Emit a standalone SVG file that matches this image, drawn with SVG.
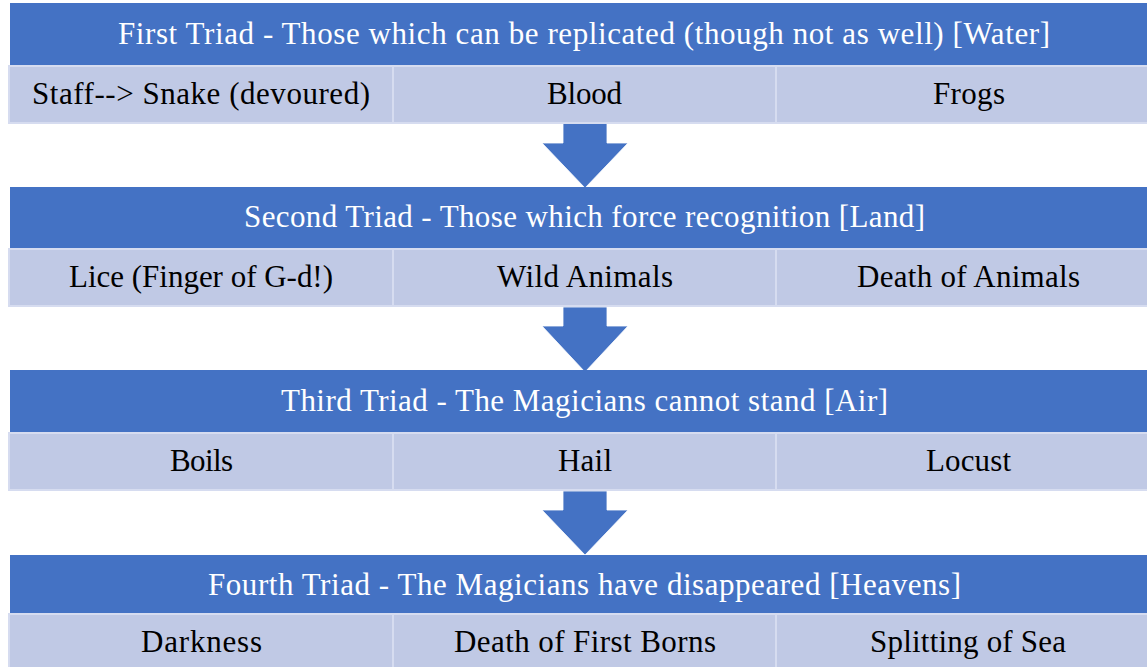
<svg xmlns="http://www.w3.org/2000/svg" width="1147" height="667" viewBox="0 0 1147 667">
<style>
.hdr{fill:#4472C4}
.cell{fill:#C0C9E5;stroke:#D6DCF0;stroke-width:2}
.arrow{fill:#4472C4;stroke:#FFFFFF;stroke-width:0.8}
.ht{font-family:"Liberation Serif","DejaVu Serif",serif;font-size:31px;fill:#FFFFFF;text-anchor:middle}
.ct{font-family:"Liberation Serif","DejaVu Serif",serif;font-size:31px;fill:#000000;text-anchor:middle}
</style>
<rect width="1147" height="667" fill="#FFFFFF"/>
<g id="connectors">
<polygon class="arrow" points="563,123 607,123 607,143 628,143 585,188 542,143 563,143"/>
<polygon class="arrow" points="563,307 607,307 607,326 628,326 585,372 542,326 563,326"/>
<polygon class="arrow" points="563,491 607,491 607,510 628,510 585,555 542,510 563,510"/>
</g>
<g id="triad1">
<rect class="hdr" x="10" y="3" width="1150" height="63"/>
<text class="ht" x="584" y="44" textLength="932">First Triad - Those which can be replicated (though not as well) [Water]</text>
<g id="t1c1"><rect class="cell" x="9" y="66" width="384" height="57"/><text class="ct" x="201" y="104" textLength="338">Staff--&gt; Snake (devoured)</text></g>
<g id="t1c2"><rect class="cell" x="393" y="66" width="383" height="57"/><text class="ct" x="584.5" y="104" textLength="75">Blood</text></g>
<g id="t1c3"><rect class="cell" x="776" y="66" width="384" height="57"/><text class="ct" x="969" y="104" textLength="72">Frogs</text></g>
</g>
<g id="triad2">
<rect class="hdr" x="10" y="187" width="1150" height="62"/>
<text class="ht" x="584.5" y="227" textLength="681">Second Triad - Those which force recognition [Land]</text>
<g id="t2c1"><rect class="cell" x="9" y="249" width="384" height="57"/><text class="ct" x="201" y="287" textLength="264">Lice (Finger of G-d!)</text></g>
<g id="t2c2"><rect class="cell" x="393" y="249" width="383" height="57"/><text class="ct" x="585" y="287" textLength="176">Wild Animals</text></g>
<g id="t2c3"><rect class="cell" x="776" y="249" width="384" height="57"/><text class="ct" x="968.5" y="287" textLength="223">Death of Animals</text></g>
</g>
<g id="triad3">
<rect class="hdr" x="10" y="370" width="1150" height="63"/>
<text class="ht" x="584.5" y="411" textLength="607">Third Triad - The Magicians cannot stand [Air]</text>
<g id="t3c1"><rect class="cell" x="9" y="433" width="384" height="57"/><text class="ct" x="201.5" y="471" textLength="63">Boils</text></g>
<g id="t3c2"><rect class="cell" x="393" y="433" width="383" height="57"/><text class="ct" x="585" y="471" textLength="54">Hail</text></g>
<g id="t3c3"><rect class="cell" x="776" y="433" width="384" height="57"/><text class="ct" x="968.5" y="471" textLength="85">Locust</text></g>
</g>
<g id="triad4">
<rect class="hdr" x="10" y="555" width="1150" height="59"/>
<text class="ht" x="584.5" y="595" textLength="753">Fourth Triad - The Magicians have disappeared [Heavens]</text>
<g id="t4c1"><rect class="cell" x="9" y="614" width="384" height="60"/><text class="ct" x="201.5" y="652" textLength="121">Darkness</text></g>
<g id="t4c2"><rect class="cell" x="393" y="614" width="383" height="60"/><text class="ct" x="585" y="652" textLength="262">Death of First Borns</text></g>
<g id="t4c3"><rect class="cell" x="776" y="614" width="384" height="60"/><text class="ct" x="968" y="652" textLength="196">Splitting of Sea</text></g>
</g>
</svg>
